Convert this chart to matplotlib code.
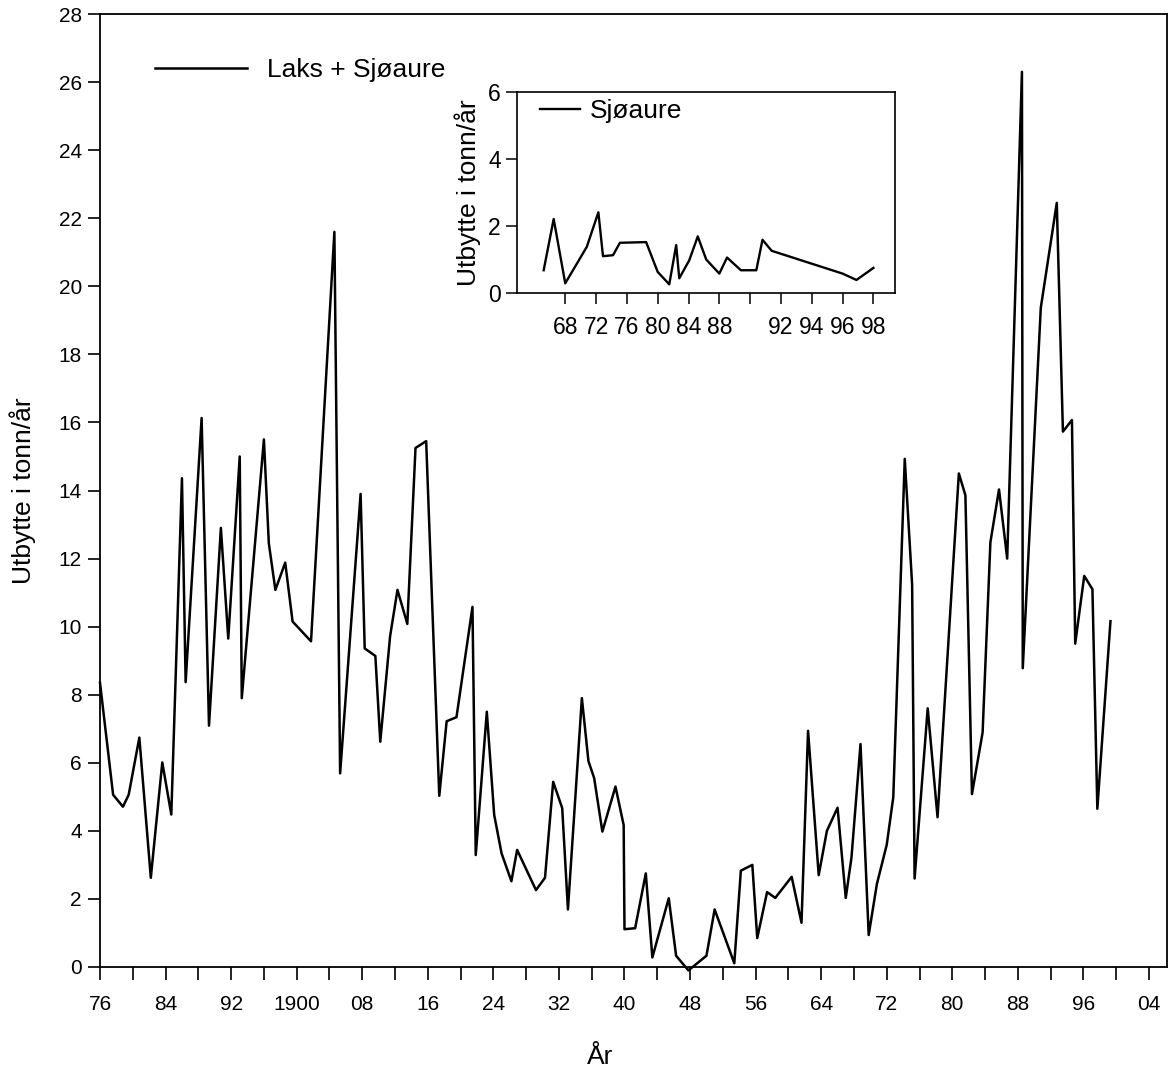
import numpy as np
import matplotlib.pyplot as plt
from matplotlib.lines import Line2D

plt.rcParams['font.family'] = ['Liberation Sans', 'DejaVu Sans']

# Laks + Sjøaure, utbytte i tonn/år (lest av figuren)
years = [1876.0, 1877.6, 1878.8, 1879.5, 1880.8, 1882.2, 1883.6, 1884.7, 1886.0, 1886.45,
         1888.4, 1889.3, 1890.75, 1891.65, 1893.05, 1893.3, 1896.0, 1896.6, 1897.4, 1898.6,
         1899.5, 1901.75, 1904.6, 1905.3, 1907.8, 1908.3, 1909.6, 1910.2, 1911.4, 1912.3,
         1913.5, 1914.5, 1915.8, 1917.4, 1918.3, 1919.5, 1921.45, 1921.85, 1923.2, 1924.1,
         1925.0, 1926.2, 1926.9, 1929.2, 1930.3, 1931.3, 1932.4, 1933.1, 1934.8, 1935.6,
         1936.3, 1937.3, 1938.9, 1939.9, 1940.0, 1941.3, 1942.6, 1943.4, 1945.4, 1946.3,
         1947.8, 1950.0, 1951.0, 1953.4, 1954.2, 1955.6, 1956.2, 1957.4, 1958.4, 1960.4,
         1961.6, 1962.4, 1963.7, 1964.7, 1966.0, 1967.0, 1967.7, 1968.8, 1969.8, 1970.8,
         1972.0, 1972.8, 1974.2, 1975.1, 1975.4, 1977.0, 1978.2, 1980.8, 1981.6, 1982.4,
         1983.7, 1984.65, 1985.7, 1986.7, 1988.5, 1988.6, 1990.8, 1992.75, 1993.5, 1994.6,
         1995.0, 1996.1, 1997.1, 1997.7, 1999.3]
catch = [8.35, 5.06, 4.71, 5.06, 6.74, 2.62, 6.01, 4.48, 14.36, 8.37,
         16.13, 7.09, 12.9, 9.65, 15.0, 7.9, 15.5, 12.45, 11.08, 11.88,
         10.15, 9.57, 21.6, 5.69, 13.9, 9.36, 9.14, 6.62, 9.72, 11.08,
         10.08, 15.25, 15.45, 5.03, 7.22, 7.34, 10.58, 3.29, 7.5, 4.47,
         3.34, 2.52, 3.44, 2.26, 2.62, 5.44, 4.67, 1.69, 7.9, 6.05,
         5.55, 3.98, 5.30, 4.17, 1.11, 1.14, 2.75, 0.28, 2.02, 0.33,
         -0.1, 0.33, 1.69, 0.11, 2.83, 3.0, 0.85, 2.2, 2.03, 2.65,
         1.30, 6.94, 2.70, 4.0, 4.68, 2.03, 3.22, 6.55, 0.94, 2.44,
         3.59, 4.99, 14.93, 11.23, 2.6, 7.6, 4.4, 14.5, 13.86, 5.08,
         6.89, 12.48, 14.03, 12.0, 26.3, 8.78, 19.37, 22.45, 15.73, 16.07,
         9.5, 11.49, 11.1, 4.65, 10.16]

# Sjøaure (innfelt)
sea_years = [1965.2, 1966.5, 1968.0, 1970.8, 1972.3, 1972.9, 1974.2, 1975.1, 1978.5, 1980.0,
             1981.5, 1982.4, 1982.8, 1984.1, 1985.2, 1986.3, 1988.0, 1988.5, 1989.4, 1990.4,
             1990.8, 1991.4, 1996.0, 1996.9, 1998.0]
sea_catch = [0.67, 2.2, 0.28, 1.37, 2.4, 1.09, 1.12, 1.49, 1.51, 0.62,
             0.25, 1.42, 0.43, 0.97, 1.68, 0.99, 0.57, 1.05, 0.67, 0.67,
             1.58, 1.25, 0.57, 0.38, 0.74]

main_ticks = np.arange(1876, 2005, 8)
main_labels = ['1900' if y == 1900 else '%02d' % (y % 100) for y in main_ticks]
inset_ticks = [1968, 1972, 1976, 1980, 1984, 1988, 1990, 1992, 1994, 1996, 1998]
inset_labels = ['68', '72', '76', '80', '84', '88', '', '92', '94', '96', '98']

fig = plt.figure(figsize=(11.7, 10.71), dpi=100)

# hovedfigur
ax = fig.add_axes([100 / 1170, 1 - 967 / 1071, 1067 / 1170, 953 / 1071])
ax.plot(years, catch, color='black', lw=1.8, clip_on=False)
ax.set_xlim(1876, 2006.2)
ax.set_ylim(0, 28)
ax.set_yticks(np.arange(0, 29, 2))
ax.set_xticks(main_ticks)
ax.set_xticklabels(main_labels)
ax.set_xticks(np.arange(1880, 2005, 8), minor=True)
ax.tick_params(axis='both', which='both', direction='out', length=9, width=1.2,
               labelsize=15, color='black')
ax.tick_params(axis='x', pad=11)
ax.tick_params(axis='y', pad=4)
for s in ax.spines.values():
    s.set_linewidth(1.3)
ax.set_ylabel('Utbytte i tonn/år', fontsize=19)
ax.yaxis.set_label_coords(-0.060, 0.5)
ax.set_xlabel('År', fontsize=19, va='center')
ax.xaxis.set_label_coords(0.4686, -0.094)
ax.legend([Line2D([], [], color='black', lw=1.8)], ['Laks + Sjøaure'],
          loc='center left', bbox_to_anchor=(0.0515, 0.941), frameon=False,
          fontsize=19, handlelength=3.5, handletextpad=0.75, borderpad=0, borderaxespad=0)

# innfelt figur, skala strekkes etter 1988
def fwd(x):
    return np.interp(x, [1800, 1988, 2100], [1800, 1988, 2212])


def inv(x):
    return np.interp(x, [1800, 1988, 2212], [1800, 1988, 2100])


ins = fig.add_axes([516.7 / 1170, 1 - 292.7 / 1071, 378.3 / 1170, 201 / 1071])
ins.set_xscale('function', functions=(fwd, inv))
ins.plot(sea_years, sea_catch, color='black', lw=1.7)
ins.set_xlim(1961.7, 1999.4)
ins.set_ylim(0, 6)
ins.set_yticks([0, 2, 4, 6])
ins.set_xticks(inset_ticks)
ins.set_xticklabels(inset_labels)
ins.xaxis.set_minor_locator(plt.NullLocator())
ins.tick_params(axis='both', direction='out', length=8, width=1.1, labelsize=16.5)
ins.tick_params(axis='x', pad=9)
for s in ins.spines.values():
    s.set_linewidth(1.2)
ins.set_ylabel('Utbytte i tonn/år', fontsize=19)
ins.yaxis.set_label_coords(-0.094, 0.5)
ins.legend([Line2D([], [], color='black', lw=1.7)], ['Sjøaure'],
           loc='center left', bbox_to_anchor=(0.0616, 0.904), frameon=False,
           fontsize=19, handlelength=1.5, handletextpad=0.4, borderpad=0, borderaxespad=0)

fig.savefig('out.png', dpi=100)
